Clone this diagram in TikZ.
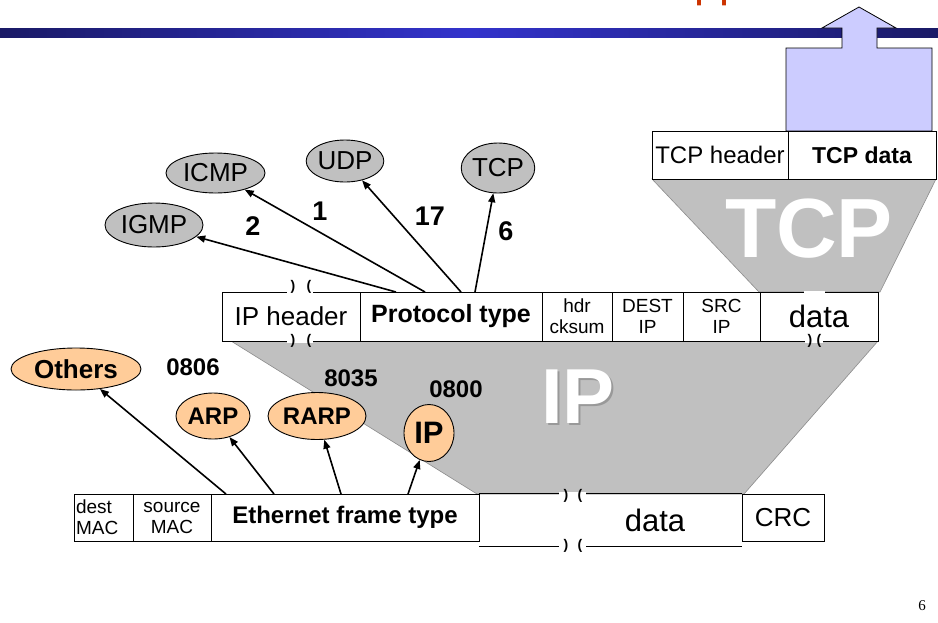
\documentclass[tikz,border=0pt]{standalone}
\usepackage{fontspec}
\setmainfont{Liberation Sans}
\newfontfamily\pageserif{Liberation Serif}
\usetikzlibrary{shapes.geometric,arrows.meta}
\definecolor{navybar}{HTML}{1A1A66}
\definecolor{bluebar}{HTML}{3333CC}
\definecolor{lavender}{HTML}{CCCCFF}
\definecolor{funnelgray}{HTML}{C0C0C0}
\definecolor{funneledge}{HTML}{8C8C8C}
\definecolor{ellgray}{HTML}{C0C0C0}
\definecolor{orfill}{HTML}{FFCC99}
\definecolor{titlered}{HTML}{CC3300}
\newcommand\myfs[1]{\fontsize{#1}{#1}\selectfont}
\begin{document}
\begin{tikzpicture}[x=1pt,y=-1pt,
  cell/.style={draw=black, line width=0.9pt, fill=white, inner sep=0pt, outer sep=0pt, align=center},
  grayell/.style={ellipse, draw=black, line width=0.9pt, fill=ellgray, inner sep=0pt, font=\myfs{26}},
  orell/.style={ellipse, draw=black, line width=0.9pt, fill=orfill, inner sep=0pt, font=\bfseries\myfs{24}},
  conn/.style={line width=1.6pt, -{Triangle[length=9pt,width=7pt]}},
  brk/.style={font=\bfseries\myfs{14}, inner sep=0pt},
  numlab/.style={font=\bfseries\myfs{27}, inner sep=0pt},
  typelab/.style={font=\bfseries\myfs{24}, inner sep=0pt},
  small2/.style={font=\fontsize{19}{21}\selectfont},
  gap/.style={fill=white, draw=none}
]
\useasboundingbox (0,0) rectangle (938,622);
\fill[white] (0,0) rectangle (938,622);

% title remnant and header bar
\node[anchor=base west, inner sep=0pt, text=titlered, font=\myfs{45}] (title) at (694,-3.5) {pp};
\shade[left color=navybar, right color=navybar, middle color=bluebar] (0,28) rectangle (938,37);

% up arrow to application
\draw[fill=lavender, line width=0.8pt] (786,131) -- (786,48) -- (842,48) -- (842,28) -- (822,28) -- (859,7)
  -- (896,28) -- (877,28) -- (877,48) -- (932,48) -- (932,131) -- cycle;

% funnels
\draw[fill=funnelgray, draw=funneledge, line width=0.6pt] (652,179) -- (936,179) -- (880,292) -- (759,292) -- cycle;
\draw[fill=funnelgray, draw=funneledge, line width=0.6pt] (231,341) -- (878,341) -- (744,494) -- (477,494) -- cycle;

% big labels
\node[text=white, font=\bfseries\myfs{84}, inner sep=0pt] (bigtcp) at (809,229) {TCP};
\node[text=gray!80, font=\bfseries\myfs{78}, inner sep=0pt] (bigipsh) at (580,399) {IP};
\node[text=white, font=\bfseries\myfs{78}, inner sep=0pt] (bigip) at (578,397) {IP};

% TCP row
\node[cell, minimum width=136, minimum height=48, font=\myfs{24}] (tcphdr) at (720,155) {TCP header};
\node[cell, minimum width=148, minimum height=48, font=\bfseries\myfs{23}] (tcpdata) at (862,155) {TCP data};

% IP row
\node[cell, minimum width=138, minimum height=49, font=\myfs{26}] (iphdr) at (291,316.5) {IP header};
\node[cell, minimum width=182, minimum height=49, font=\bfseries\myfs{25}] (proto) at (451,316.5) {Protocol type};
\node[cell, minimum width=70, minimum height=49, small2] (cksum) at (577,316.5) {hdr\\cksum};
\node[cell, minimum width=71, minimum height=49, small2] (dest) at (647.5,316.5) {DEST\\IP};
\node[cell, minimum width=77, minimum height=49, small2] (src) at (721.5,316.5) {SRC\\IP};
\node[cell, minimum width=118, minimum height=49, font=\myfs{31}] (ipdata) at (819,316.5) {data};

% Ethernet row
\node[cell, minimum width=59, minimum height=47, small2, align=left, text width=55] (dmac) at (103.5,517.5) {dest\\MAC};
\node[cell, minimum width=78, minimum height=47, small2] (smac) at (172,517.5) {source\\MAC};
\node[cell, minimum width=268, minimum height=47, font=\bfseries\myfs{24}] (etype) at (345,517.5) {Ethernet frame type};
\node[inner sep=0pt, minimum width=263, minimum height=47] (edata) at (610.5,517.5) {};
\draw[line width=0.9pt] (edata.north west) -- (edata.north east);
\node[inner sep=0pt, font=\myfs{31}] (edatatxt) at (655,520) {data};
\node[cell, minimum width=82, minimum height=47, font=\myfs{26}] (crc) at (783,517.5) {CRC};
\coordinate (ebl) at (479,546);
\coordinate (ebr) at (742,546);
\draw[line width=0.9pt] (ebl) -- (ebr);

% break marks
\fill[gap] (287,290) rectangle (313,294);
\node[brk] (b1a) at (293,287) {)};
\node[brk] (b1b) at (309,287) {(};
\fill[gap] (287,339) rectangle (313,343);
\node[brk] (b2a) at (293,341) {)};
\node[brk] (b2b) at (309,341) {(};
\fill[gap] (804,291) rectangle (825,294);
\fill[gap] (805,339) rectangle (823,343);
\node[brk] (b3a) at (810,341) {)};
\node[brk] (b3b) at (819,341) {(};
\fill[gap] (559,492) rectangle (586,496);
\node[brk] (b4a) at (566,496) {)};
\node[brk] (b4b) at (580,496) {(};
\fill[gap] (559,544) rectangle (586,548);
\node[brk] (b5a) at (566,546) {)};
\node[brk] (b5b) at (580,546) {(};

% protocol ellipses
\node[grayell, minimum width=99, minimum height=40] (icmp) at (215.5,173) {ICMP};
\node[grayell, minimum width=76, minimum height=42] (udp) at (345,161) {UDP};
\node[grayell, minimum width=70, minimum height=50] (tcp) at (498,168) {TCP};
\node[grayell, minimum width=98, minimum height=44] (igmp) at (154,225) {IGMP};

% frame-type ellipses
\node[orell, minimum width=130, minimum height=42, font=\bfseries\myfs{26}] (others) at (76,369) {Others};
\node[orell, minimum width=74, minimum height=46] (arp) at (213,416) {ARP};
\node[orell, minimum width=98, minimum height=47] (rarp) at (317,416) {RARP};
\node[orell, minimum width=50, minimum height=57, font=\bfseries\myfs{31}] (ipell) at (429,433) {IP};

% protocol arrows
\coordinate (sigmp) at (396,292);
\coordinate (sicmp) at (425,292);
\coordinate (sudp) at (461,292);
\coordinate (stcp) at (475,292);
\draw[conn] (sigmp) -- (igmp);
\draw[conn] (sicmp) -- (icmp);
\draw[conn] (sudp) -- (udp);
\draw[conn] (stcp) -- (tcp);

% frame type arrows
\coordinate (soth) at (226,494);
\coordinate (sarp) at (274,494);
\coordinate (srarp) at (341,494);
\coordinate (sip) at (408,494);
\draw[conn] (soth) -- (others);
\draw[conn] (sarp) -- (arp);
\draw[conn] (srarp) -- (rarp);
\draw[conn] (sip) -- (ipell);

% numbers
\node[numlab] (n2) at (253,226) {2};
\node[numlab] (n1) at (320,211) {1};
\node[numlab] (n17) at (430,216) {17};
\node[numlab] (n6) at (506,231) {6};
\node[typelab] (n0806) at (193,367) {0806};
\node[typelab] (n8035) at (351,378) {8035};
\node[typelab] (n0800) at (456,389) {0800};

% page number
\node[font=\pageserif\myfs{15}, inner sep=0pt] (pnum) at (922,606) {6};
\end{tikzpicture}
\end{document}
